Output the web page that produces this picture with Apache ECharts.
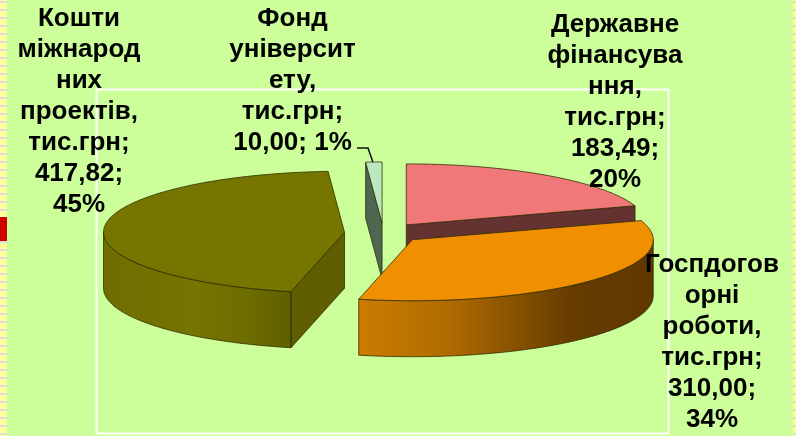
<!DOCTYPE html>
<html lang="uk">
<head>
<meta charset="UTF-8">
<title>Фінансування</title>
<style>
    html, body { margin: 0; padding: 0; background: #ccff99; }
    #chart { width: 796px; height: 436px; }
</style>
</head>
<body>
<div id="chart"></div>
<script src="https://cdn.jsdelivr.net/npm/echarts@6/dist/echarts.min.js"></script>
<script>
// data, clockwise from 12 o'clock
var categories = ['Державне\nфінансува\nння', 'Госпдогов\nорні\nроботи', 'Кошти\nміжнарод\nних\nпроектів', 'Фонд\nуніверсит\nету'];
var values = [183.49, 310.00, 417.82, 10.00];
var unit = 'тис.грн';
var valueSeparators = ['\n', '\n', '\n', ' '];

// looks
var topColors = ['#f07878', '#f09000', '#767500', '#bce8c0'];
var sideColors = ['#653232', '#c87800', '#5f5e00', '#4f6650'];
var wallStops = [
    null,
    [[0, '#cc7c00'], [0.3, '#b06c00'], [0.72, '#663c00'], [1, '#603800']],
    [[0, '#6e6d00'], [0.5, '#767500'], [0.8, '#6c6b00'], [1, '#5f5e00']],
    null
];
var labelPos = [[615, 102.5], [712, 342], [79, 111.5], [292.5, 81]];
var paintOrder = [20, 40, 30, 10];

var cx = 383.4, cy = 233, rx = 241, ry = 61, depth = 56;
var explodeX = 39, explodeY = 10;
var edgeColor = 'rgba(40,40,0,0.75)';

var total = values.reduce(function (a, b) { return a + b; }, 0);

function onRim(c, deg, drop) {
    var r = deg * Math.PI / 180;
    return [c[0] + rx * Math.sin(r), c[1] - ry * Math.cos(r) + (drop || 0)];
}

function arcPoints(c, from, to, drop) {
    var pts = [], n = Math.max(2, Math.ceil(Math.abs(to - from)));
    for (var i = 0; i <= n; i++) pts.push(onRim(c, from + (to - from) * i / n, drop));
    return pts;
}

function labelText(i) {
    var pct = Math.round(values[i] / total * 100);
    return categories[i] + ',\n' + unit + ';\n' + values[i].toFixed(2).replace('.', ',') + ';' + valueSeparators[i] + pct + '%';
}

function renderSlice(params, api) {
    var i = params.dataIndex, v = api.value(0), before = 0;
    for (var k = 0; k < i; k++) before += values[k];
    var a0 = before / total * 360, a1 = (before + v) / total * 360;
    var mid = (a0 + a1) / 2 * Math.PI / 180;
    var c = [cx + explodeX * Math.sin(mid), cy - explodeY * Math.cos(mid)];
    var z = paintOrder[i], kids = [];
    var lineStyle = { stroke: edgeColor, lineWidth: 1 };

    function radialFace(deg) {
        var p = onRim(c, deg);
        kids.push({
            type: 'polygon', z2: z,
            shape: { points: [c, p, [p[0], p[1] + depth], [c[0], c[1] + depth]] },
            style: Object.assign({ fill: sideColors[i] }, lineStyle)
        });
    }
    if (a0 > 180 && a0 < 360) radialFace(a0);
    if (a1 > 0 && a1 < 180) radialFace(a1);

    // front wall, only the part of the rim turned to the viewer
    var w0 = Math.max(a0, 90), w1 = Math.min(a1, 270);
    if (w1 > w0) {
        var stops = wallStops[i].map(function (s) { return { offset: s[0], color: s[1] }; });
        kids.push({
            type: 'polygon', z2: z + 1,
            shape: { points: arcPoints(c, w0, w1, 0).concat(arcPoints(c, w1, w0, depth)) },
            style: Object.assign({ fill: new echarts.graphic.LinearGradient(0, 0, 1, 0, stops) }, lineStyle)
        });
    }

    kids.push({
        type: 'polygon', z2: z + 2,
        shape: { points: [c].concat(arcPoints(c, a0, a1)) },
        style: Object.assign({ fill: topColors[i] }, lineStyle)
    });

    kids.push({
        type: 'text', z2: 100,
        style: {
            text: labelText(i), x: labelPos[i][0], y: labelPos[i][1],
            align: 'center', verticalAlign: 'middle',
            font: 'bold 26px "Liberation Sans", Arial, sans-serif', lineHeight: 31, fill: '#000'
        }
    });

    // small slice gets a leader line
    if (v / total < 0.02) {
        var tip = onRim(c, (a0 + a1) / 2);
        kids.push({
            type: 'polyline', z2: 90,
            shape: { points: [[357, 148], [368, 148], [tip[0] - 1, tip[1]]] },
            style: { stroke: '#111', lineWidth: 1.5, fill: null }
        });
    }
    return { type: 'group', children: kids };
}

// stripes at the slide edges
var decor = [];
for (var y = -7; y < 436; y += 8) {
    decor.push({ type: 'rect', shape: { x: 0, y: y, width: 7, height: 2 }, style: { fill: '#dddddd' } });
    decor.push({ type: 'rect', shape: { x: 0, y: y + 2, width: 7, height: 6 }, style: { fill: '#ffff99' } });
    decor.push({ type: 'rect', shape: { x: 793, y: y, width: 3, height: 2 }, style: { fill: '#dddddd' } });
    decor.push({ type: 'rect', shape: { x: 793, y: y + 2, width: 3, height: 6 }, style: { fill: '#ffff99' } });
}
decor.push({ type: 'rect', shape: { x: 0, y: 217, width: 7, height: 24 }, style: { fill: '#d00000' } });
decor.push({ type: 'rect', shape: { x: 96.5, y: 89.5, width: 572, height: 344 }, style: { fill: 'none', stroke: '#fff', lineWidth: 2 } });

var myChart = echarts.init(document.getElementById('chart'));
myChart.setOption({
    backgroundColor: '#ccff99',
    animation: false,
    graphic: decor,
    series: [{
        type: 'custom',
        coordinateSystem: 'none',
        renderItem: renderSlice,
        data: values.map(function (v) { return [v]; })
    }]
});
</script>
</body>
</html>
